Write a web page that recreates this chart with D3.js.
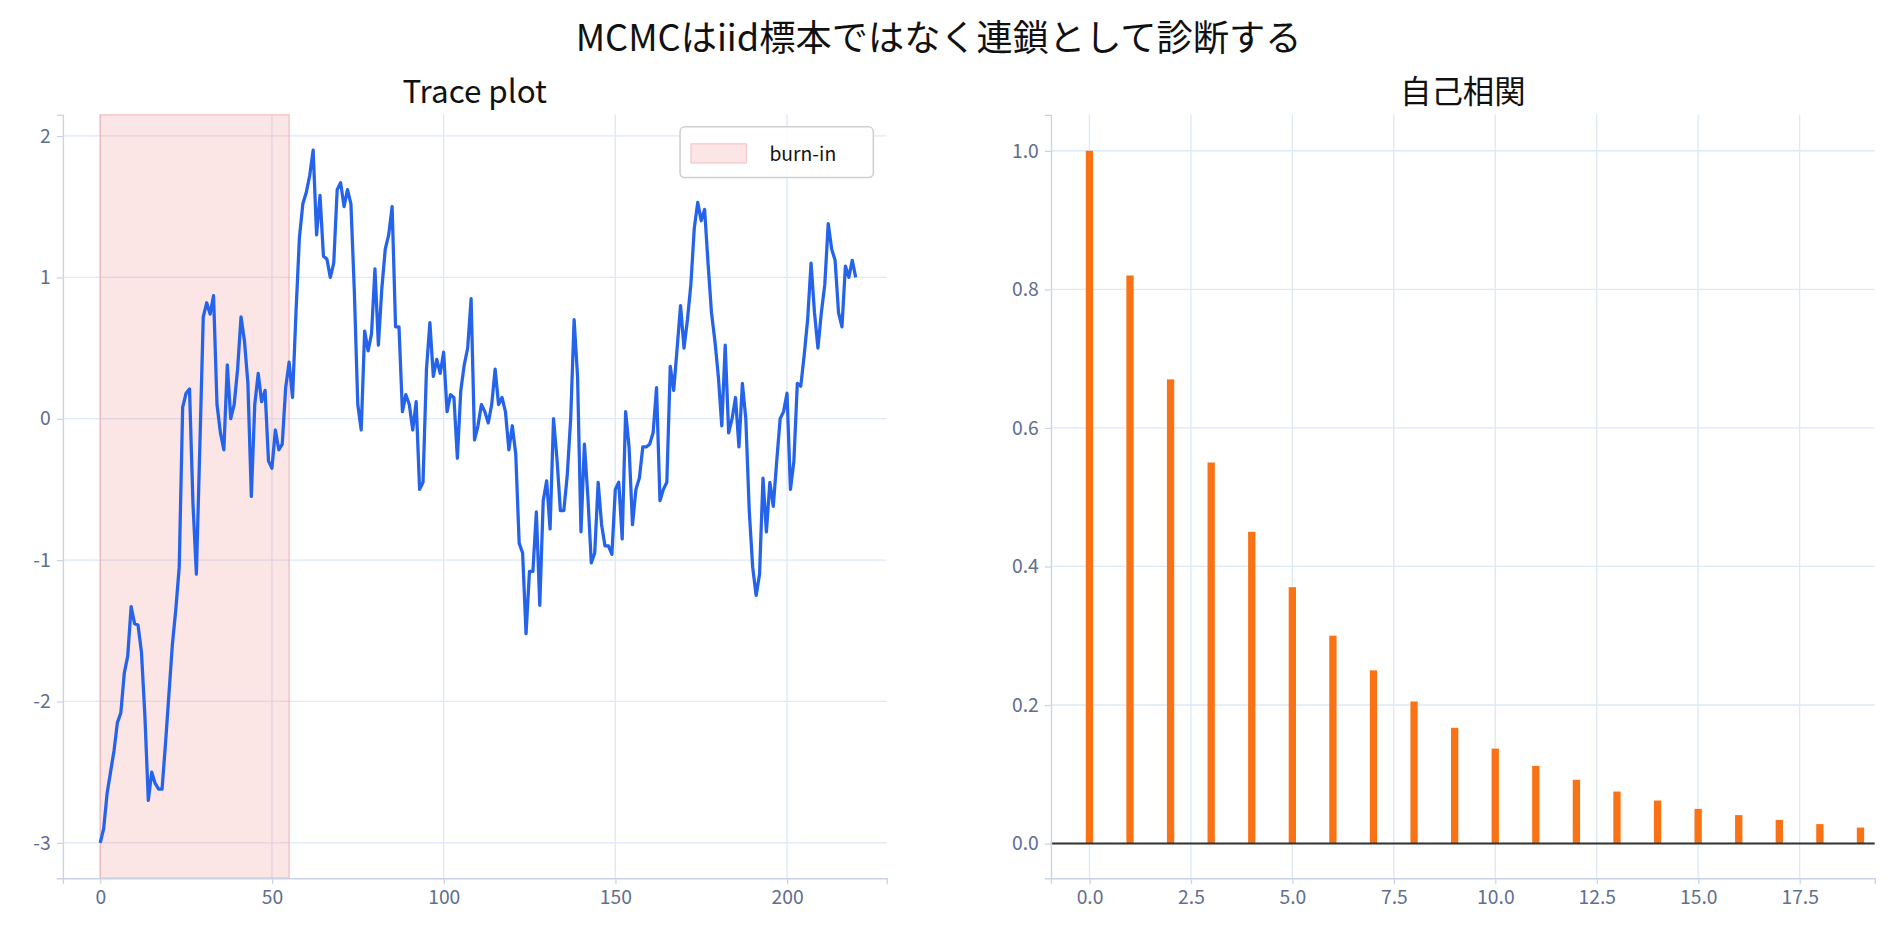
<!DOCTYPE html>
<html><head><meta charset="utf-8">
<script src="https://cdn.jsdelivr.net/npm/d3@7"></script>
<style>body{margin:0;background:#fff;font-family:"Noto Sans CJK JP","Noto Sans",sans-serif;}</style>
</head><body><svg id="c" width="1894" height="940"></svg>
<script>
const traceValues=[-3.0,-2.9,-2.65,-2.5,-2.35,-2.15,-2.08,-1.8,-1.68,-1.33,-1.45,-1.46,-1.65,-2.1,-2.7,-2.5,-2.58,-2.62,-2.62,-2.3,
-1.95,-1.6,-1.35,-1.05,0.08,0.18,0.21,-0.6,-1.1,-0.2,0.72,0.82,0.74,0.87,0.1,-0.1,-0.22,0.38,0.0,0.1,
0.35,0.72,0.55,0.25,-0.55,0.1,0.32,0.12,0.2,-0.3,-0.35,-0.08,-0.22,-0.18,0.22,0.4,0.15,0.75,1.28,1.52,
1.6,1.72,1.9,1.3,1.58,1.15,1.13,1.0,1.1,1.62,1.67,1.5,1.62,1.52,0.9,0.1,-0.08,0.62,0.48,0.6,
1.06,0.52,0.92,1.2,1.3,1.5,0.65,0.65,0.05,0.17,0.1,-0.08,0.12,-0.5,-0.45,0.35,0.68,0.3,0.42,0.32,
0.47,0.05,0.17,0.15,-0.28,0.2,0.38,0.5,0.85,-0.15,-0.05,0.1,0.05,-0.03,0.1,0.35,0.1,0.15,0.05,-0.22,
-0.05,-0.25,-0.88,-0.95,-1.52,-1.08,-1.08,-0.66,-1.32,-0.58,-0.44,-0.78,0.0,-0.28,-0.65,-0.65,-0.4,0.0,0.7,0.3,
-0.8,-0.18,-0.55,-1.02,-0.95,-0.45,-0.75,-0.9,-0.9,-0.96,-0.5,-0.45,-0.85,0.05,-0.2,-0.75,-0.5,-0.42,-0.2,-0.2,
-0.18,-0.1,0.22,-0.58,-0.5,-0.45,0.37,0.2,0.5,0.8,0.5,0.7,0.95,1.35,1.53,1.4,1.48,1.1,0.75,0.55,
0.3,-0.05,0.52,-0.1,0.0,0.15,-0.2,0.25,0.0,-0.65,-1.05,-1.25,-1.1,-0.42,-0.8,-0.45,-0.62,-0.3,0.0,0.05,
0.18,-0.5,-0.3,0.25,0.23,0.45,0.7,1.1,0.75,0.5,0.75,0.95,1.38,1.2,1.12,0.75,0.65,1.08,1.0,1.12,1.0];
const acfLags=d3.range(20);
const acfValues=[1.0,0.82,0.67,0.55,0.45,0.37,0.30,0.25,0.205,0.167,0.137,0.112,0.092,0.075,0.062,0.05,0.041,0.034,0.028,0.023];
const traceYTicks=[2,1,0,-1,-2,-3];
const traceXTicks=[0,50,100,150,200];
const acfYTicks=[0,0.2,0.4,0.6,0.8,1.0];
const acfXTicks=[0,2.5,5,7.5,10,12.5,15,17.5];
const burnIn=[0,55];

const root=d3.select("#c").append("g").attr("transform",`scale(${1894/1568})`);
const grid="#dde8f8", spine="#c9d3e3", tickc="#5f6f8f";
root.append("text").attr("x",777).attr("y",42).attr("text-anchor","middle").attr("font-size",30).attr("fill","#111").text("MCMCはiid標本ではなく連鎖として診断する");
const hy=d=>String(d).replace("\u2212","-");
function panel(x0,x1,y0,y1,xd,yd,xt,yt,fmtX,fmtY,title){
  const g=root.append("g");
  const x=d3.scaleLinear().domain(xd).range([x0,x1]);
  const y=d3.scaleLinear().domain(yd).range([y1,y0]);
  xt.forEach(t=>g.append("line").attr("x1",x(t)).attr("x2",x(t)).attr("y1",y0).attr("y2",y1).attr("stroke",grid).attr("stroke-width",1.1));
  yt.forEach(t=>g.append("line").attr("x1",x0).attr("x2",x1).attr("y1",y(t)).attr("y2",y(t)).attr("stroke",grid).attr("stroke-width",1.1));
  g.append("text").attr("x",(x0+x1)/2).attr("y",y0-10).attr("text-anchor","middle").attr("font-size",26).attr("fill","#111").text(title);
  return {g,x,y,draw(){
    const ax=g.append("g").attr("transform",`translate(0,${y1})`).call(d3.axisBottom(x).tickValues(xt).tickFormat(fmtX).tickSize(5).tickPadding(5));
    const ay=g.append("g").attr("transform",`translate(${x0},0)`).call(d3.axisLeft(y).tickValues(yt).tickFormat(fmtY).tickSize(5).tickPadding(5));
    [ax,ay].forEach(a=>{a.select(".domain").attr("stroke",spine).attr("stroke-width",1.1);a.selectAll(".tick line").attr("stroke",spine);a.selectAll("text").attr("fill",tickc).attr("font-size",16).attr("font-family","Noto Sans CJK JP, sans-serif");});
  }};
}
const L=panel(52,734,95,727,[-10.9,229],[-3.25,2.15],traceXTicks,traceYTicks,d=>d3.format("d")(d),d=>hy(d));
L.g.append("rect").attr("x",L.x(burnIn[0])).attr("width",L.x(burnIn[1])-L.x(burnIn[0])).attr("y",95).attr("height",632).attr("fill","rgba(240,160,160,0.28)").attr("stroke","rgba(240,150,150,0.45)").attr("stroke-width",1.3);
L.g.append("path").datum(traceValues).attr("fill","none").attr("stroke","#2563eb").attr("stroke-width",2.7).attr("stroke-linejoin","round")
 .attr("d",d3.line().x((d,i)=>L.x(i)).y(d=>L.y(d)));
L.draw();
L.g.select("text").text("Trace plot");
const lg=L.g.append("g");
lg.append("rect").attr("x",563).attr("y",105).attr("width",160).attr("height",42).attr("rx",4).attr("fill","rgba(255,255,255,0.85)").attr("stroke","#d0d0d0").attr("stroke-width",1.3);
lg.append("rect").attr("x",572).attr("y",119).attr("width",46).attr("height",16).attr("fill","rgba(240,160,160,0.28)").attr("stroke","rgba(240,150,150,0.45)");
lg.append("text").attr("x",637).attr("y",133).attr("font-size",16).attr("fill","#111").text("burn-in");

const R=panel(870,1552,95,727,[-0.95,19.35],[-0.05,1.052],acfXTicks,acfYTicks,d3.format(".1f"),d3.format(".1f"),"自己相関");
R.g.selectAll(".bar").data(acfValues).join("rect").attr("x",(d,i)=>R.x(acfLags[i]-0.09)).attr("width",R.x(0.18)-R.x(0))
 .attr("y",d=>R.y(d)).attr("height",d=>R.y(0)-R.y(d)).attr("fill","#f97316");
R.g.append("line").attr("x1",870).attr("x2",1552).attr("y1",R.y(0)).attr("y2",R.y(0)).attr("stroke","#333").attr("stroke-width",1.8);
R.draw();
</script></body></html>
